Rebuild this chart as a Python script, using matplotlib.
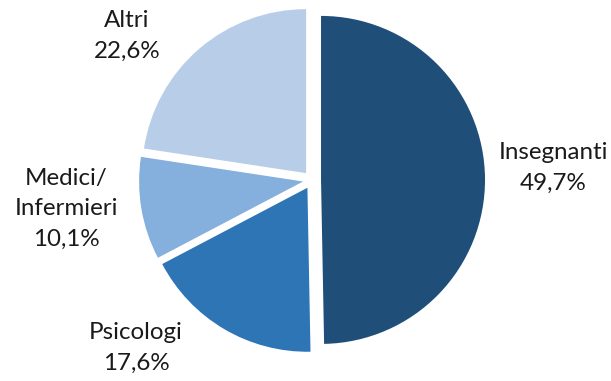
import numpy as np
import matplotlib.pyplot as plt

labels = ["Insegnanti", "Psicologi", "Medici/\nInfermieri", "Altri"]
values = [49.7, 17.6, 10.1, 22.6]
colors = ["#1F4E79", "#2E75B6", "#85AFDC", "#B8CDE8"]

# label placement: (angle in degrees, distance in radii) from pie centre
label_polar = [(2.9, 1.465), (-136.3, 1.475), (-173.3, 1.50), (142.1, 1.42)]

plt.rcParams['font.family'] = ['Lato', 'DejaVu Sans']

fig = plt.figure(figsize=(6.11, 3.81), dpi=100)
ax = fig.add_axes([0, 0, 1, 1])
ax.set_xlim(0, 611)
ax.set_ylim(0, 381)
ax.set_aspect('equal')
ax.axis('off')

cx, cy, r = 312, 201, 164
# explode is in data units here, not radius units
ax.pie(values, colors=colors, startangle=90, counterclock=False,
       explode=[0.055 * r] * len(values), radius=r, center=(cx, cy),
       wedgeprops=dict(linewidth=0))
ax.set_xlim(0, 611)
ax.set_ylim(0, 381)

for lab, v, (ang, dist) in zip(labels, values, label_polar):
    a = np.deg2rad(ang)
    x = cx + dist * 165 * np.cos(a)
    y = cy + dist * 165 * np.sin(a)
    txt = "{}\n{}%".format(lab, ("%.1f" % v).replace(".", ","))
    ax.text(x, y, txt, ha='center', va='center', fontsize=17.4,
            color='#1a1a1a', linespacing=1.55)

fig.savefig("out.png", dpi=100)
